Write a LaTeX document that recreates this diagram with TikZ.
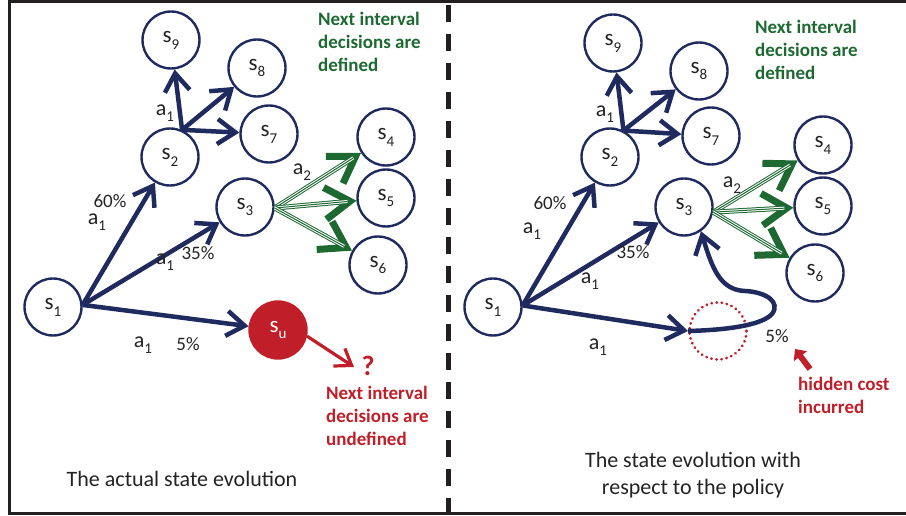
\documentclass[tikz,border=0pt]{standalone}
\usepackage{fontspec}
\setmainfont{Carlito}
\usetikzlibrary{arrows.meta,calc}

\definecolor{navy}{RGB}{31,42,94}
\definecolor{dkgreen}{RGB}{30,105,50}
\definecolor{dkred}{RGB}{192,30,40}
\definecolor{ink}{RGB}{35,35,35}
\definecolor{framec}{RGB}{35,31,32}

% letter with a lowered index, e.g. s_9 or a_1
\newcommand{\subl}[2]{#1\raisebox{-0.3em}{\fontsize{15}{15}\selectfont #2}}

% green "triple line" transition with a heavy chevron head
\newcommand{\triarrow}[2]{%
  \draw[dkgreen, line width=5pt,
        -{Straight Barb[length=25pt,width=32pt,line width=7pt]}] #1 -- #2;
  \draw[white, line width=3pt, shorten >=9pt] #1 -- #2;
  \draw[dkgreen, line width=1pt, shorten >=9pt] #1 -- #2;}

\tikzset{
  state/.style={circle, draw=navy, line width=2.4pt, minimum size=57pt,
                inner sep=0pt, text=ink, font=\fontsize{23}{23}\selectfont},
  badstate/.style={state, fill=dkred, draw=dkred, text=white},
  flow/.style={draw=navy, line width=4.5pt,
               -{Straight Barb[length=18pt,width=25pt]}},
  lab/.style={text=ink, inner sep=0pt, font=\fontsize{22}{22}\selectfont},
  pct/.style={text=ink, inner sep=0pt, font=\fontsize{19}{19}\selectfont},
  note/.style={inner sep=0pt, align=left, anchor=north west,
               font=\bfseries\fontsize{19}{23}\selectfont},
  caption/.style={text=ink, inner sep=0pt, align=center,
                  font=\fontsize{22}{27}\selectfont},
}

\begin{document}
\begin{tikzpicture}[x=1pt,y=-1pt]
\useasboundingbox (0,0) rectangle (906,516);

% frame (open on the right) and panel divider
\draw[framec, line width=3pt] (906,1.5) -- (9.5,1.5) -- (9.5,513.5) -- (906,513.5);
\draw[framec, line width=4.5pt, dash pattern=on 17pt off 12pt] (448.5,5) -- (448.5,512);

% ---------------- left panel: actual evolution ----------------
\node[state] (s9) at (171,40)  {\subl{s}{9}};
\node[state] (s8) at (257,68)  {\subl{s}{8}};
\node[state] (s7) at (269,134) {\subl{s}{7}};
\node[state] (s2) at (170,157) {\subl{s}{2}};
\node[state] (s3) at (245,207) {\subl{s}{3}};
\node[state] (s4) at (386,137) {\subl{s}{4}};
\node[state] (s5) at (386,198) {\subl{s}{5}};
\node[state] (s6) at (378,265) {\subl{s}{6}};
\node[state] (s1) at (53,307)  {\subl{s}{1}};
\node[badstate] (su) at (278,330) {\subl{s}{u}};

\draw[flow] (s1.4) -- (s2);
\draw[flow] (s1.4) -- (s3);
\draw[flow] (s1.4) -- (su);
\draw[flow] (s2.66) -- (s9);
\draw[flow] (s2.66) -- (s8);
\draw[flow] (s2.66) -- (s7);
\triarrow{(s3.-2)}{(s4)}
\triarrow{(s3.-2)}{(s5)}
\triarrow{(s3.-2)}{(s6)}

\node[lab] (la1) at (165,113) {\subl{a}{1}};
\node[pct] (lp60) at (110,201) {60\%};
\node[lab] (la2) at (97,222) {\subl{a}{1}};
\node[lab] (la3) at (165,262) {\subl{a}{1}};
\node[pct] (lp35) at (198,253) {35\%};
\node[lab] (la4) at (302,172) {\subl{a}{2}};
\node[lab] (la5) at (143,345) {\subl{a}{1}};
\node[pct] (lp5) at (188,344) {5\%};

\node[note, text=dkgreen] (gl) at (318,12) {Next interval\\decisions are\\defined};

\node[text=dkred, inner sep=0pt, font=\bfseries\fontsize{28}{28}\selectfont] (qm) at (368,366) {?};
\coordinate (qtip) at (354,367);
\draw[dkred, line width=3.2pt, -{Straight Barb[length=15pt,width=21pt]}] (su.-12) -- (qtip);
\node[note, text=dkred] (rl) at (326,386) {Next interval\\decisions are\\undefined};

\node[caption] (cl) at (182,479) {The actual state evolution};

% ---------------- right panel: evolution seen by the policy ----------------
\node[state] (r9) at (613,43)  {\subl{s}{9}};
\node[state] (r8) at (699,71)  {\subl{s}{8}};
\node[state] (r7) at (711,136) {\subl{s}{7}};
\node[state] (r2) at (610,157) {\subl{s}{2}};
\node[state] (r3) at (684,207) {\subl{s}{3}};
\node[state] (r4) at (823,145) {\subl{s}{4}};
\node[state] (r5) at (823,206) {\subl{s}{5}};
\node[state] (r6) at (815,273) {\subl{s}{6}};
\node[state] (r1) at (493,307) {\subl{s}{1}};
\node[circle, draw=dkred, line width=3pt, dash pattern=on 0.1pt off 5pt,
      line cap=round, minimum size=57pt, inner sep=0pt] (hid) at (718,331) {};

\draw[flow] (r1.3) -- (r2);
\draw[flow] (r1.3) -- (r3);
\draw[flow] (r1.3) -- (hid.west);
\draw[flow] (hid.west) .. controls (728,330) and (762,325) .. (772,314)
            .. controls (781,302) and (766,292) .. (745,291)
            .. controls (720,290) and (712,268) .. (r3.-55);
\draw[flow] (r2.63) -- (r9);
\draw[flow] (r2.63) -- (r8);
\draw[flow] (r2.63) -- (r7);
\triarrow{(r3.-10)}{(r4)}
\triarrow{(r3.-10)}{(r5)}
\triarrow{(r3.-10)}{(r6)}

\node[lab] (ra1) at (605,114) {\subl{a}{1}};
\node[pct] (rp60) at (550,203) {60\%};
\node[lab] (ra2) at (532,231) {\subl{a}{1}};
\node[pct] (rp35) at (633,252) {35\%};
\node[lab] (ra3) at (590,281) {\subl{a}{1}};
\node[lab] (ra4) at (732,185) {\subl{a}{2}};
\node[lab] (ra5) at (598,347) {\subl{a}{1}};
\node[pct] (rp5) at (777,336) {5\%};

\node[note, text=dkgreen] (gr) at (755,20) {Next interval\\decisions are\\defined};

\node[note, text=dkred] (hc) at (798,377) {hidden cost\\incurred};
\coordinate (hctip) at (795,349);
\draw[dkred, line width=6pt, -{Triangle[length=9pt,width=16pt]}]
  ([xshift=12pt,yshift=8pt]hc.north west) -- (hctip);

\node[caption] (cr) at (693,475.5) {The state evolution with\\respect to the policy};
\end{tikzpicture}
\end{document}
